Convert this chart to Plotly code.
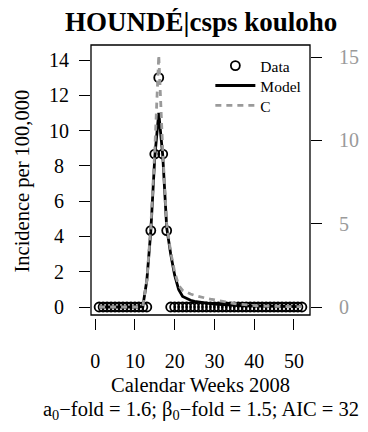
import plotly.graph_objects as go

# --- data ---
weeks = list(range(1, 53))
incidence = [0.0] * 13 + [4.33, 8.67, 13.0, 8.67, 4.33] + [0.0] * 34
model = [0.0] * 11 + [
    0.05, 1.5, 4.3, 8.5, 11.0, 8.6, 4.5, 3.0, 1.8, 1.0,
    0.6, 0.47, 0.38, 0.32, 0.28, 0.24, 0.21, 0.19, 0.17, 0.15,
    0.13, 0.11, 0.10, 0.09, 0.08, 0.07, 0.06, 0.06, 0.05, 0.05,
    0.04, 0.04, 0.04, 0.03, 0.03, 0.03, 0.03, 0.02, 0.02, 0.02, 0.02,
]
c_series = [0.0] * 11 + [
    0.05, 1.6, 4.8, 9.4, 15.1, 9.4, 5.0, 3.3, 2.1, 1.3,
    1.0, 0.88, 0.78, 0.70, 0.63, 0.57, 0.52, 0.47, 0.42, 0.37,
    0.32, 0.28, 0.24, 0.21, 0.18, 0.15, 0.12, 0.10, 0.08, 0.07,
    0.06, 0.05, 0.05, 0.04, 0.04, 0.03, 0.03, 0.03, 0.02, 0.02, 0.02,
]
x_ticks = [0, 10, 20, 30, 40, 50]
y_ticks = [0, 2, 4, 6, 8, 10, 12, 14]
y2_ticks = [0, 5, 10, 15]

title = "<b>HOUNDÉ|csps kouloho</b>"
x_title = "Calendar Weeks 2008"
sub_title = "a<sub>0</sub>\u2212fold = 1.6; \u03b2<sub>0</sub>\u2212fold = 1.5; AIC = 32"
y_title = "Incidence per 100,000"

FONT = "Liberation Serif"
GREY = "#9a9a9a"

# single digits padded so the labels sit centred like R's
y_ticktext = [str(v) if v >= 10 else f"{v}\u00a0" for v in y_ticks]

fig = go.Figure()
fig.add_trace(go.Scatter(
    x=weeks, y=incidence, mode="markers", name="Data", legend="legend",
    marker=dict(symbol="circle-open", size=9, color="black", line=dict(width=1.8)),
))
fig.add_trace(go.Scatter(
    x=weeks, y=model, mode="lines", name="Model", legend="legend2",
    line=dict(color="black", width=2.8),
))
fig.add_trace(go.Scatter(
    x=weeks, y=c_series, mode="lines", name="C", yaxis="y2", legend="legend3",
    line=dict(color=GREY, width=2.8, dash="6px,5px"),
))

ydom = [3 / 273, 1]
leg = dict(x=0.545, xanchor="left", yanchor="middle", bgcolor="rgba(0,0,0,0)",
           font=dict(size=15.5), itemwidth=40)

fig.update_layout(
    width=360, height=424,
    margin=dict(l=83, r=58, t=37, b=114),
    paper_bgcolor="white", plot_bgcolor="white",
    font=dict(family=FONT, size=20, color="black"),
    showlegend=True,
    legend=dict(leg, y=0.923),
    legend2=dict(leg, y=0.850),
    legend3=dict(leg, y=0.777),
    xaxis=dict(
        range=[-1.04, 54.04], tickvals=x_ticks, ticks="outside", ticklen=11,
        tickcolor="black", tickwidth=1.2, showline=False, showgrid=False,
        zeroline=False, anchor="free", position=0, ticklabelstandoff=14,
        automargin=False,
    ),
    yaxis=dict(
        domain=ydom, range=[-0.453, 14.85], tickvals=y_ticks, ticktext=y_ticktext,
        ticks="outside", ticklen=11, tickcolor="black", tickwidth=1.2,
        showline=False, showgrid=False, zeroline=False, ticklabelstandoff=6,
        automargin=False,
    ),
    yaxis2=dict(
        domain=ydom, range=[-0.48, 15.72], tickvals=y2_ticks, ticks="outside",
        ticklen=11, tickcolor="black", tickwidth=1.2, overlaying="y",
        side="right", anchor="x", showline=False, showgrid=False,
        zeroline=False, tickfont=dict(color=GREY), ticklabelstandoff=13,
        automargin=False,
    ),
    shapes=[dict(
        type="rect", xref="paper", yref="y domain", x0=0, x1=1, y0=0, y1=1,
        line=dict(color="black", width=1.3), layer="above",
    )],
    annotations=[
        dict(text=title, xref="paper", yref="paper", x=0.5, y=1, yshift=23,
             showarrow=False, font=dict(size=27), xanchor="center", yanchor="middle"),
        dict(text=x_title, xref="paper", yref="paper", x=0.5, y=0, yshift=-67,
             showarrow=False, font=dict(size=20.5), xanchor="center", yanchor="middle"),
        dict(text=sub_title, xref="paper", yref="paper", x=0.5, y=0, yshift=-92,
             showarrow=False, font=dict(size=20.5), xanchor="center", yanchor="middle"),
        dict(text=y_title, xref="paper", yref="paper", x=0, xshift=-69, y=0.5,
             textangle=-90, showarrow=False, font=dict(size=20.5),
             xanchor="center", yanchor="middle"),
    ],
)

fig.write_html("out.html")
